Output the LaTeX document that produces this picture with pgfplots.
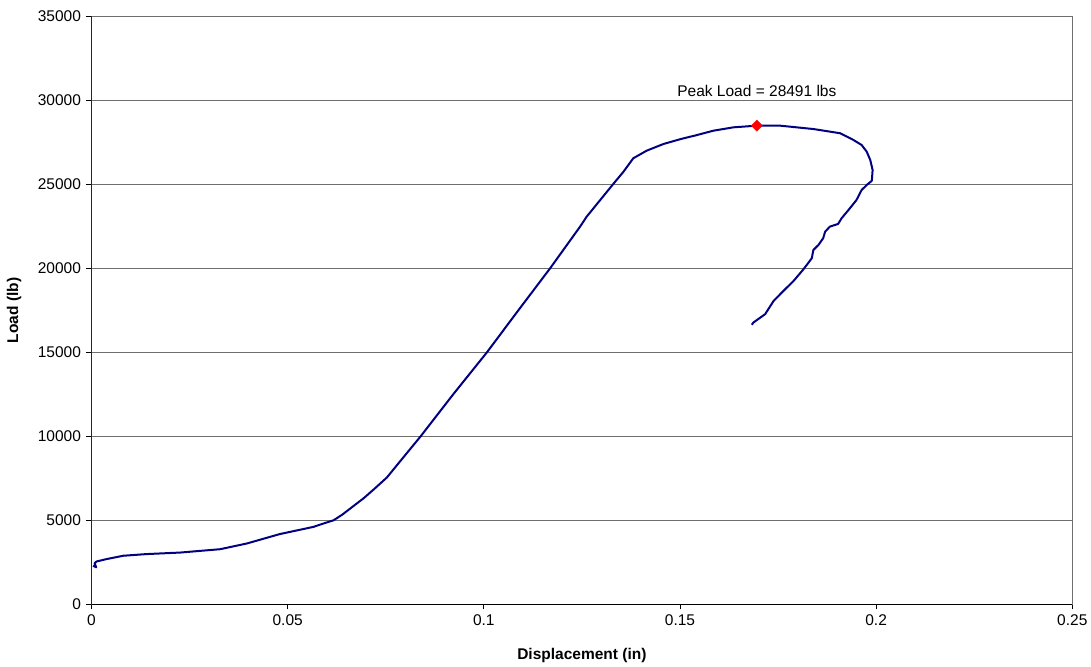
\documentclass[border=0pt]{standalone}
\usepackage{fontspec}
\setmainfont{Liberation Sans}
\usepackage{pgfplots}
\pgfplotsset{compat=1.18}
\definecolor{curve}{RGB}{0,0,128}
\definecolor{gridc}{RGB}{110,110,110}
\begin{document}
\begin{tikzpicture}
\begin{axis}[
  scale only axis, width=980.8pt, height=588pt,
  xmin=0, xmax=0.25, ymin=0, ymax=35000,
  axis line style={gridc, line width=0.8pt},
  xtick={0,0.05,0.1,0.15,0.2,0.25},
  xticklabels={0,0.05,0.1,0.15,0.2,0.25},
  ytick={0,5000,10000,15000,20000,25000,30000,35000},
  yticklabels={0,5000,10000,15000,20000,25000,30000,35000},
  xtick pos=bottom, ytick pos=left,
  tick align=outside, major tick length=5pt,
  tick style={black, line width=0.8pt},
  ymajorgrids, grid style={gridc, line width=0.8pt},
  ticklabel style={font=\fontsize{15.5}{18}\selectfont, text=black},
  xticklabel style={yshift=-2pt},
  yticklabel style={xshift=-2pt},
  xlabel={\textbf{Displacement (in)}},
  ylabel={\textbf{Load (lb)}},
  label style={font=\fontsize{15.5}{18}\selectfont},
  xlabel style={at={(rel axis cs:0.5,0)}, anchor=center, yshift=-50.7pt},
  ylabel style={at={(rel axis cs:0,0.5)}, anchor=center, yshift=77.5pt},
]
\addplot[curve, line width=2pt, line join=round] coordinates {
(0.0004,2300) (0.0012,2200) (0.0008,2450) (0.0013,2550) (0.004,2700)
(0.0081,2890) (0.0141,2990) (0.0226,3080) (0.0328,3280) (0.0396,3620)
(0.048,4180) (0.0566,4610) (0.0590,4800) (0.0617,5000) (0.0640,5350)
(0.0665,5800) (0.0693,6300) (0.0720,6850) (0.0753,7550) (0.0795,8750)
(0.0839,10000) (0.0922,12500) (0.1008,15000) (0.1088,17500)
(0.1169,20000) (0.1246,22500) (0.1262,23070) (0.1330,25020)
(0.1356,25750) (0.1381,26550) (0.1415,27000) (0.1458,27400)
(0.1500,27680) (0.1543,27930) (0.1585,28190) (0.1636,28390)
(0.1696,28491) (0.1755,28490) (0.1840,28290) (0.1908,28040)
(0.1942,27640) (0.1963,27340) (0.1976,26940) (0.1985,26450)
(0.1991,25850) (0.1989,25210) (0.1976,24960) (0.1963,24660)
(0.1950,24070) (0.1933,23570) (0.1912,22980) (0.1903,22640)
(0.1882,22480) (0.1870,22180) (0.1865,21790) (0.1853,21390)
(0.1840,21090) (0.1836,20600) (0.1815,19950) (0.1790,19260)
(0.1764,18660) (0.1739,18070) (0.1717,17270) (0.1687,16770)
(0.1683,16640)
};
\addplot[only marks, mark=square*, mark size=4pt, mark options={rotate=45}, color=red, fill=red] coordinates {(0.1696,28491)};
\node[font=\fontsize{15.5}{18}\selectfont, anchor=center] at (axis cs:0.1696,30550) {Peak Load = 28491 lbs};
\draw[black, line width=0.8pt] (rel axis cs:0,1) -- (rel axis cs:0,0) -- (rel axis cs:1,0);
\end{axis}
\pgfresetboundingbox
\path (current axis.south west) ++(-91.5pt,-61.7pt) coordinate (bl);
\path (current axis.north east) ++(18.7pt,16.3pt) coordinate (tr);
\path (bl) rectangle (tr);
\end{tikzpicture}
\end{document}
